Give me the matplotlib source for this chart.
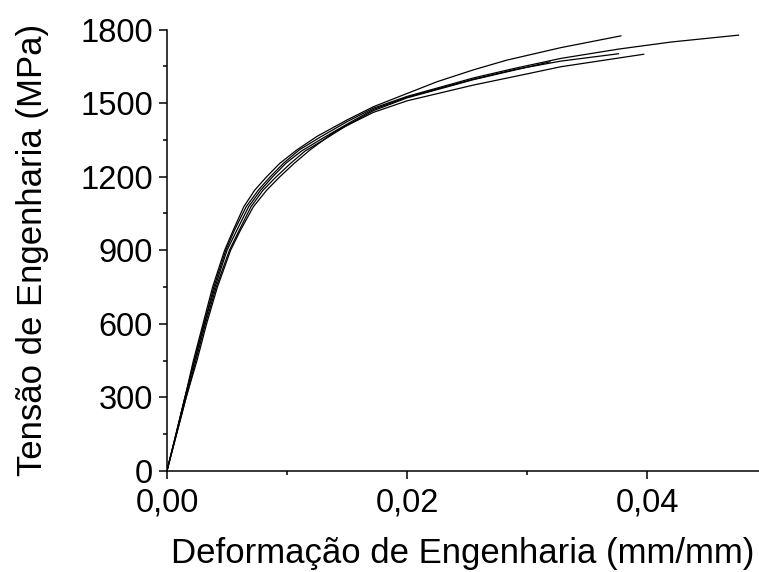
import matplotlib
matplotlib.use('Agg')
import matplotlib.pyplot as plt
from matplotlib.ticker import MultipleLocator, FuncFormatter

plt.rcParams['font.family'] = ['Liberation Sans', 'DejaVu Sans']

# curva A (superior, termina em 0,0378)
strain_a = [0, 0.00075, 0.0015, 0.0022, 0.0030, 0.0038, 0.0048, 0.0055, 0.0064, 0.0073, 0.0083,
            0.0094, 0.0108, 0.0125, 0.0150, 0.0172, 0.0200, 0.0225, 0.0255, 0.0283, 0.0328, 0.0378]
stress_a = [0, 150, 300, 450, 600, 750, 900, 980, 1078, 1145, 1200,
            1255, 1309, 1365, 1432, 1486, 1540, 1588, 1636, 1676, 1727, 1775]

# curva E (mais longa)
strain_e = [0, 0.00075, 0.0015, 0.0023, 0.0031, 0.0039, 0.0049, 0.0056, 0.0066, 0.0076, 0.0086,
            0.0097, 0.0110, 0.0127, 0.0150, 0.0172, 0.0200, 0.0228, 0.0255, 0.0290, 0.0328,
            0.0376, 0.0420, 0.0476]
stress_e = [0, 150, 300, 450, 600, 750, 900, 980, 1078, 1145, 1200,
            1255, 1309, 1360, 1425, 1480, 1528, 1566, 1603, 1643, 1683,
            1721, 1750, 1778]

# curva C
strain_c = [0, 0.00077, 0.0015, 0.0023, 0.0031, 0.0040, 0.0050, 0.0058, 0.0068, 0.0078, 0.0088,
            0.0099, 0.0112, 0.0130, 0.0150, 0.0172, 0.0200, 0.0255, 0.0290, 0.0328, 0.0376]
stress_c = [0, 150, 300, 450, 600, 750, 900, 980, 1078, 1145, 1200,
            1255, 1305, 1358, 1415, 1475, 1525, 1598, 1638, 1672, 1702]

# curva B (mais curta)
strain_b = [0, 0.0008, 0.0016, 0.0024, 0.0032, 0.0041, 0.0052, 0.0060, 0.0070, 0.0080, 0.0091,
            0.0103, 0.0115, 0.0132, 0.0150, 0.0172, 0.0200, 0.0255, 0.0319]
stress_b = [0, 150, 300, 450, 600, 750, 900, 980, 1078, 1145, 1200,
            1255, 1305, 1355, 1410, 1470, 1522, 1596, 1669]

# curva D (inferior)
strain_d = [0, 0.0008, 0.0016, 0.0025, 0.0033, 0.0042, 0.0053, 0.0061, 0.0072, 0.0083, 0.0094,
            0.0106, 0.0119, 0.0140, 0.0172, 0.0200, 0.0255, 0.0300, 0.0328, 0.0397]
stress_d = [0, 150, 300, 450, 600, 750, 900, 980, 1078, 1145, 1200,
            1255, 1309, 1385, 1463, 1510, 1574, 1620, 1649, 1700]

fig = plt.figure(figsize=(7.59, 5.72), dpi=100)
ax = fig.add_axes([0.22, 0.177, 0.78, 0.771])

for x, y in [(strain_a, stress_a), (strain_e, stress_e), (strain_c, stress_c),
             (strain_b, stress_b), (strain_d, stress_d)]:
    ax.plot(x, y, color='black', lw=0.9)

ax.set_xlim(0, 0.0493)
ax.set_ylim(0, 1800)
ax.xaxis.set_major_locator(MultipleLocator(0.02))
ax.xaxis.set_minor_locator(MultipleLocator(0.01))
ax.yaxis.set_major_locator(MultipleLocator(300))
ax.yaxis.set_minor_locator(MultipleLocator(150))
ax.xaxis.set_major_formatter(FuncFormatter(lambda v, p: f'{v:.2f}'.replace('.', ',')))

for s in ['top', 'right']:
    ax.spines[s].set_visible(False)
for s in ['left', 'bottom']:
    ax.spines[s].set_linewidth(1.1)

ax.tick_params(which='major', direction='out', length=6, width=1.1, labelsize=23.5)
ax.tick_params(which='minor', direction='out', length=3, width=1.1)
ax.tick_params(axis='y', which='major', pad=4)
ax.tick_params(axis='x', which='major', pad=6)

ax.set_xlabel('Deformação de Engenharia (mm/mm)', fontsize=25)
ax.set_ylabel('Tensão de Engenharia (MPa)', fontsize=25)
ax.xaxis.set_label_coords(0.5, -0.15)
ax.yaxis.set_label_coords(-0.2, 0.5)

fig.savefig('out.png', dpi=100)
